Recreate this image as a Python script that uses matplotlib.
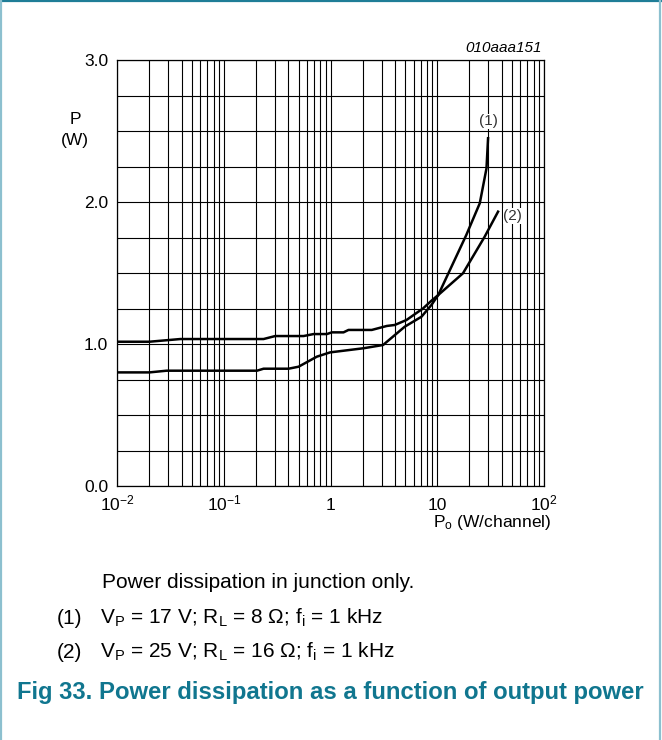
import matplotlib
matplotlib.use("Agg")
import matplotlib.pyplot as plt
from matplotlib.lines import Line2D
import numpy as np

plt.rcParams['font.family'] = ['Liberation Sans', 'DejaVu Sans']
plt.rcParams['mathtext.fontset'] = 'custom'
plt.rcParams['mathtext.rm'] = 'Liberation Sans'
plt.rcParams['mathtext.it'] = 'Liberation Sans:italic'
plt.rcParams['mathtext.bf'] = 'Liberation Sans:bold'

# ---- data ----
# curve (1): VP = 17 V; RL = 8 ohm
po_1 = [0.01, 0.02, 0.029, 0.204, 0.235, 0.403, 0.50, 0.743, 0.989, 2.03, 3.10,
        4.95, 7.1, 8.81, 10.2, 18.7, 25.0, 28.9, 29.9]
pd_1 = [0.800, 0.800, 0.812, 0.812, 0.826, 0.826, 0.840, 0.911, 0.941, 0.970, 0.993,
        1.122, 1.192, 1.275, 1.345, 1.768, 1.991, 2.237, 2.449]
# curve (2): VP = 25 V; RL = 16 ohm
po_2 = [0.01, 0.02, 0.039, 0.235, 0.302, 0.557, 0.692, 0.921, 1.026, 1.32, 1.47,
        2.43, 3.36, 3.99, 5.14, 7.36, 8.81, 10.2, 17.4, 27.8, 37.1]
pd_2 = [1.016, 1.016, 1.035, 1.035, 1.056, 1.056, 1.070, 1.070, 1.082, 1.082, 1.099,
        1.099, 1.127, 1.134, 1.169, 1.251, 1.305, 1.345, 1.498, 1.756, 1.932]

curve_labels = ['(1)', '(2)']
xtick_vals = [0.01, 0.1, 1, 10, 100]
xtick_labels = [r'$10^{-2}$', r'$10^{-1}$', '1', '10', r'$10^{2}$']
ytick_vals = [0.0, 1.0, 2.0, 3.0]
ytick_labels = ['0.0', '1.0', '2.0', '3.0']

W, H = 662, 740
fig = plt.figure(figsize=(W / 100, H / 100), dpi=100)
fig.patch.set_facecolor('white')

ax_l, ax_r, ax_t, ax_b = 117.3, 544.0, 60.0, 486.0
ax = fig.add_axes([ax_l / W, 1 - ax_b / H, (ax_r - ax_l) / W, (ax_b - ax_t) / H])
ax.set_xscale('log')
ax.set_xlim(0.01, 100)
ax.set_ylim(0, 3.0)

ax.set_xticks(xtick_vals)
ax.set_xticklabels(xtick_labels)
ax.set_xticks([m * 10.0 ** e for e in range(-2, 2) for m in range(2, 10)], minor=True)
ax.set_yticks(ytick_vals)
ax.set_yticklabels(ytick_labels)
ax.set_yticks(np.arange(0, 3.01, 0.25), minor=True)
ax.grid(True, which='both', color='black', linewidth=0.8)
ax.tick_params(which='both', length=0, labelsize=12.5, colors='black')
ax.tick_params(axis='y', pad=6.5)
ax.tick_params(axis='x', pad=17.3)
for lbl in ax.get_xticklabels():
    lbl.set_verticalalignment('baseline')
for s in ax.spines.values():
    s.set_linewidth(0.9)
ax.set_axisbelow(True)

ax.plot(po_1, pd_1, color='black', linewidth=1.8, solid_joinstyle='round', zorder=3)
ax.plot(po_2, pd_2, color='black', linewidth=1.8, solid_joinstyle='round', zorder=3)

ax.text(po_1[-1], pd_1[-1] + 0.07, curve_labels[0], ha='center', va='bottom',
        fontsize=11, color='#333333', zorder=4,
        bbox=dict(facecolor='white', edgecolor='none', pad=0.5))
ax.text(po_2[-1] * 1.12, pd_2[-1] - 0.03, curve_labels[1], ha='left', va='center',
        fontsize=11, color='#333333', zorder=4,
        bbox=dict(facecolor='white', edgecolor='none', pad=0.5))

# axis labels
fig.text(75 / W, 1 - 120 / H, 'P', ha='center', va='center', fontsize=12.5)
fig.text(75 / W, 1 - 140 / H, '(W)', ha='center', va='center', fontsize=12.5)
fig.text(551 / W, 1 - 527 / H, r'P$_\mathrm{o}$ (W/channel)', ha='right', va='baseline',
         fontsize=12.5)
fig.text(542 / W, 1 - 48 / H, '010aaa151', ha='right', va='center', fontsize=11,
         style='italic')

# notes
fs = 15
fig.text(102 / W, 1 - 582 / H, 'Power dissipation in junction only.', ha='left',
         va='center', fontsize=fs)
fig.text(57 / W, 1 - 618 / H, '(1)', ha='left', va='center', fontsize=fs)
fig.text(100 / W, 1 - 618 / H,
         r'V$_\mathrm{P}$ = 17 V; R$_\mathrm{L}$ = 8 Ω; f$_\mathrm{i}$ = 1 kHz',
         ha='left', va='center', fontsize=fs)
fig.text(57 / W, 1 - 652 / H, '(2)', ha='left', va='center', fontsize=fs)
fig.text(100 / W, 1 - 652 / H,
         r'V$_\mathrm{P}$ = 25 V; R$_\mathrm{L}$ = 16 Ω; f$_\mathrm{i}$ = 1 kHz',
         ha='left', va='center', fontsize=fs)
fig.text(17 / W, 1 - 692 / H, 'Fig 33.', ha='left', va='center', fontsize=17,
         fontweight='bold', color='#10768f')
fig.text(99 / W, 1 - 692 / H, 'Power dissipation as a function of output power',
         ha='left', va='center', fontsize=17.2, fontweight='bold', color='#10768f')

# frame
fig.add_artist(Line2D([0, 1], [1 - 1 / H, 1 - 1 / H], color='#1f7d97', linewidth=1.6))
fig.add_artist(Line2D([1 / W, 1 / W], [0, 1], color='#8cc0cf', linewidth=1.6))
fig.add_artist(Line2D([660 / W, 660 / W], [0, 1], color='#8cc0cf', linewidth=1.6))

fig.savefig('out.png', dpi=100, facecolor='white')
